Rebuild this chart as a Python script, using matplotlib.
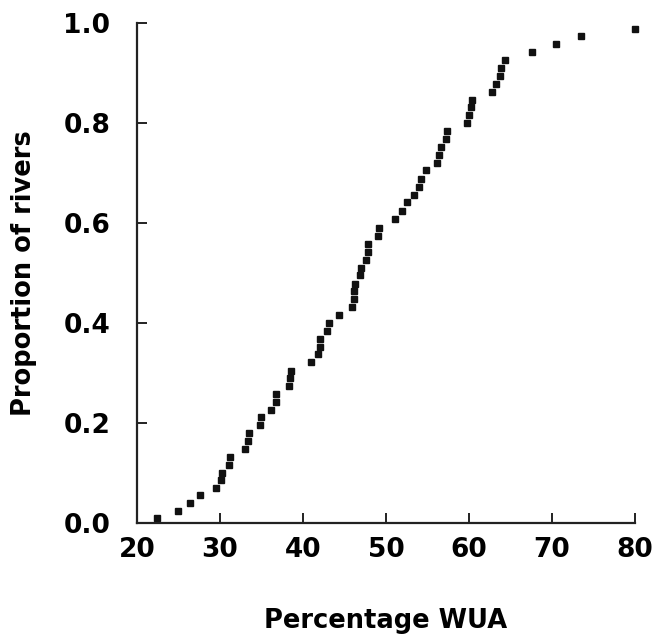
import matplotlib
matplotlib.use("Agg")
from matplotlib import pyplot as plt

# Percentage WUA for each river, and cumulative proportion
wua = [22.4, 25.0, 26.4, 27.6, 29.5, 30.1, 30.2, 31.1, 31.2, 33.0,
       33.4, 33.5, 34.8, 35.0, 36.1, 36.7, 36.8, 38.3, 38.5, 38.6,
       41.0, 41.8, 42.0, 42.1, 42.9, 43.1, 44.4, 45.9, 46.1, 46.2,
       46.3, 46.9, 47.0, 47.6, 47.8, 47.8, 49.0, 49.2, 51.1, 51.9,
       52.5, 53.4, 54.0, 54.2, 54.8, 56.1, 56.4, 56.6, 57.2, 57.4,
       59.8, 60.0, 60.3, 60.4, 62.8, 63.2, 63.8, 63.9, 64.3, 67.6,
       70.5, 73.5, 80.0]
proportion = [0.010, 0.024, 0.041, 0.056, 0.070, 0.087, 0.101, 0.117, 0.132, 0.149,
              0.164, 0.180, 0.197, 0.212, 0.227, 0.243, 0.259, 0.274, 0.290, 0.305,
              0.322, 0.338, 0.353, 0.369, 0.385, 0.400, 0.417, 0.433, 0.449, 0.465,
              0.479, 0.496, 0.511, 0.527, 0.542, 0.558, 0.575, 0.590, 0.608, 0.625,
              0.641, 0.656, 0.671, 0.688, 0.705, 0.720, 0.736, 0.752, 0.767, 0.783,
              0.800, 0.815, 0.831, 0.846, 0.862, 0.878, 0.894, 0.910, 0.925, 0.941,
              0.957, 0.973, 0.987]

xticks = [20, 30, 40, 50, 60, 70, 80]
yticks = [0.0, 0.2, 0.4, 0.6, 0.8, 1.0]

plt.rcParams['font.family'] = ['DejaVu Sans']
plt.rcParams['font.weight'] = 'bold'

fig = plt.figure(figsize=(6.58, 6.35), dpi=100)
ax = fig.add_axes([0.208, 0.176, 0.757, 0.788])

ax.plot(wua, proportion, 's', color='#111111', markersize=4.6, clip_on=False)

ax.set_xlim(20, 80)
ax.set_ylim(0, 1.0)
ax.set_xticks(xticks)
ax.set_yticks(yticks)
ax.set_xticklabels([str(t) for t in xticks])
ax.set_yticklabels(['%.1f' % t for t in yticks])

for side in ['top', 'right']:
    ax.spines[side].set_visible(False)
for side in ['left', 'bottom']:
    ax.spines[side].set_linewidth(1.6)
    ax.spines[side].set_color('#222222')

ax.tick_params(direction='in', length=7, width=1.4, color='#222222',
               labelsize=19, pad=19)
ax.tick_params(axis='x', pad=10)

ax.set_xlabel('Percentage WUA', fontsize=18.5, fontweight='bold')
ax.set_ylabel('Proportion of rivers', fontsize=18.5, fontweight='bold')
ax.xaxis.set_label_coords(0.5, -0.17)
ax.yaxis.set_label_coords(-0.2, 0.5)

fig.savefig('out.png', dpi=100)
